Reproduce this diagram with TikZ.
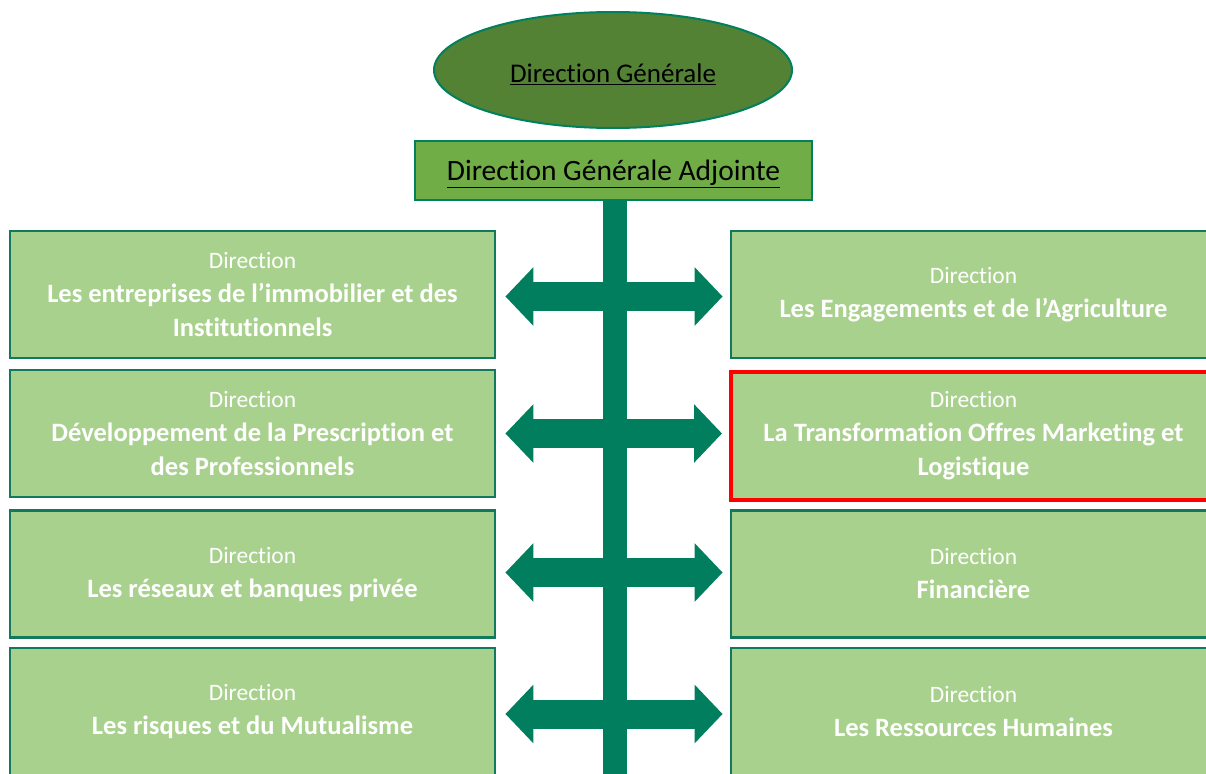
\documentclass[tikz,border=0pt]{standalone}
\usepackage{fontspec}
\setmainfont{Carlito}[Ligatures=NoCommon]
\usetikzlibrary{arrows.meta,shapes.geometric}
\definecolor{boxfill}{HTML}{A9D18E}
\definecolor{boxline}{HTML}{127A5A}
\definecolor{arrowgreen}{HTML}{007E5E}
\definecolor{dgfill}{HTML}{548235}
\definecolor{dgline}{HTML}{00805C}
\definecolor{adjfill}{HTML}{70AD47}
\definecolor{hilite}{HTML}{FF0000}
\newcommand{\bl}[1]{{\fontsize{26.5}{34}\selectfont\bfseries #1}}
\begin{document}
\begin{tikzpicture}[x=1pt,y=-1pt,
  dirbox/.style={rectangle, draw=boxline, fill=boxfill, line width=2.8pt,
    minimum width=485pt, minimum height=127pt, inner sep=0pt, align=center,
    text=white, font={\fontsize{23.5}{34}\selectfont}},
  redbox/.style={dirbox, draw=hilite, line width=4pt, minimum height=128pt},
  dblarrow/.style={draw=arrowgreen, line width=29pt,
    {Triangle[length=28pt,width=57pt]}-{Triangle[length=28pt,width=57pt]}},
  spine/.style={draw=arrowgreen, line width=24pt}]
\useasboundingbox (0,0) rectangle (1206,773);
\clip (0,0) rectangle (1206,773);

\node[ellipse, draw=dgline, fill=dgfill, line width=2pt, minimum width=358pt,
  minimum height=116pt, inner sep=0pt, font={\fontsize{27}{30}\selectfont}]
  (dg) at (613,70) {\raisebox{-12.5pt}[0pt][0pt]{\underline{Direction Générale}}};
\node[rectangle, draw=dgline, fill=adjfill, line width=2.5pt, minimum width=397pt,
  minimum height=59pt, inner sep=0pt, font={\fontsize{29.5}{32}\selectfont}]
  (adj) at (613.5,170.5) {\raisebox{-10pt}[0pt][0pt]{\underline{Direction Générale Adjointe}}};

\node[dirbox] (l1) at (252.5,294.5) {Direction\\ \bl{Les entreprises de l’immobilier et des}\\ \bl{Institutionnels}};
\node[dirbox] (l2) at (252.5,433.5) {Direction\\ \bl{Développement de la Prescription et}\\ \bl{des Professionnels}};
\node[dirbox] (l3) at (252.5,574) {Direction\\ \bl{Les réseaux et banques privée}};
\node[dirbox, minimum height=127pt] (l4) at (252.5,711.5) {Direction\\ \bl{Les risques et du Mutualisme}};

\node[dirbox] (r1) at (973.5,294.5) {Direction\\ \bl{Les Engagements et de l’Agriculture}};
\node[redbox] (r2) at (973.5,435.5) {Direction\\ \bl{La Transformation Offres Marketing et}\\ \bl{Logistique}};
\node[dirbox] (r3) at (973.5,574) {Direction\\ \bl{Financière}};
\node[dirbox] (r4) at (973.5,711.5) {Direction\\ \bl{Les Ressources Humaines}};

\coordinate (bot) at (615,775);
\draw[spine] (adj.south -| bot) -- (bot);

\draw[dblarrow] ([xshift=9pt,yshift=-2pt]l1.east) -- ([xshift=-7pt,yshift=-2pt]r1.west);
\draw[dblarrow] ([xshift=9pt]l2.east) -- ([xshift=-7pt]l2.east -| r2.west);
\draw[dblarrow] ([xshift=9pt,yshift=1.5pt]l3.east) -- ([xshift=-7pt,yshift=1.5pt]r3.west);
\draw[dblarrow] ([xshift=9pt,yshift=-2.5pt]l4.east) -- ([xshift=-7pt,yshift=-2.5pt]r4.west);
\end{tikzpicture}
\end{document}
